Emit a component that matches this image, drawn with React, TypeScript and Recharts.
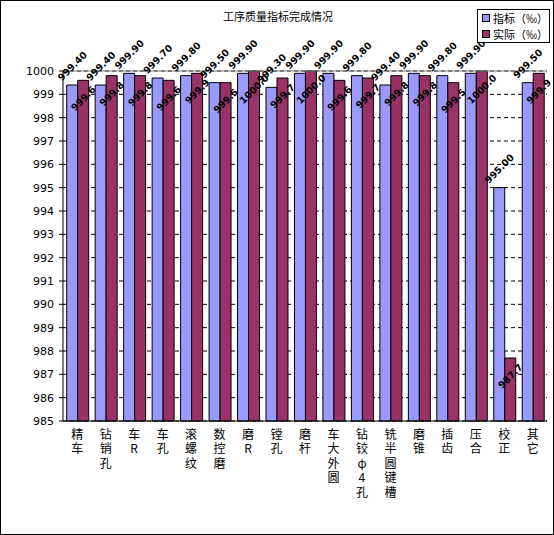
import React from 'react'
import { BarChart, Bar, XAxis, YAxis, CartesianGrid, ReferenceLine, LabelList } from 'recharts'

const categories = [
  '精车', '钻销孔', '车R', '车孔', '滚螺纹', '数控磨', '磨R', '镗孔', '磨杆',
  '车大外圆', '钻铰φ4孔', '铣半圆键槽', '磨锥', '插齿', '压合', '校正', '其它',
]
const target = [
  999.4, 999.4, 999.9, 999.7, 999.8, 999.5, 999.9, 999.3, 999.9,
  999.9, 999.8, 999.4, 999.9, 999.8, 999.9, 995.0, 999.5,
]
const actual = [
  999.6, 999.8, 999.8, 999.6, 999.9, 999.5, 1000.0, 999.7, 1000.0,
  999.6, 999.7, 999.8, 999.8, 999.5, 1000.0, 987.7, 999.9,
]
const yTicks = [985, 986, 987, 988, 989, 990, 991, 992, 993, 994, 995, 996, 997, 998, 999, 1000]

const data = categories.map((name, i) => ({ name, target: target[i], actual: actual[i] }))

const FONT = '"Noto Sans CJK SC", "DejaVu Sans", sans-serif'

// vertical category names, written top to bottom
function XTick({ x, y, payload }: any) {
  return (
    <text
      x={x}
      y={Number(y) + 7}
      fontSize={12}
      fontFamily={FONT}
      fill="#000"
      style={{ writingMode: 'vertical-rl', textOrientation: 'upright', letterSpacing: 2.5 } as any}
    >
      {payload.value}
    </text>
  )
}

// rotated value labels, target above the bar, actual inside the top
function rotLabel(digits: number, offset: number) {
  return (props: any) => {
    const { x, y, width, value } = props
    const cx = Number(x) + Number(width) / 2
    const cy = Number(y) + offset
    return (
      <g>
        <g transform={`translate(${cx} ${cy}) rotate(-45)`}>
          <text
            x={0}
            y={0}
            textAnchor="middle"
            dominantBaseline="central"
            fontSize={9.5}
            fontWeight="bold"
            fontFamily='"DejaVu Sans", sans-serif'
            fill="#000"
          >
            {Number(value).toFixed(digits)}
          </text>
        </g>
      </g>
    )
  }
}

function LegendBox() {
  const row = (color: string, label: string) => (
    <div style={{ display: 'flex', alignItems: 'center', height: 16 }}>
      <span
        style={{
          display: 'inline-block',
          width: 6,
          height: 6,
          background: color,
          border: '1px solid #000',
          marginRight: 3,
        }}
      />
      <span>{label}</span>
    </div>
  )
  return (
    <div
      style={{
        position: 'absolute',
        left: 476,
        top: 8,
        width: 73,
        height: 34,
        boxSizing: 'border-box',
        border: '1px solid #000',
        background: '#fff',
        padding: '0 0 0 4px',
        fontSize: 11,
        fontFamily: FONT,
        lineHeight: '16px',
      }}
    >
      {row('#9999FF', '指标（‰）')}
      {row('#993366', '实际（‰）')}
    </div>
  )
}

export default function App() {
  return (
    <div
      style={{
        position: 'absolute',
        left: 0,
        top: 0,
        width: 554,
        height: 535,
        boxSizing: 'border-box',
        border: '1px solid #000',
        background: '#fff',
      }}
    >
      <div
        style={{
          position: 'absolute',
          left: 0,
          width: 554,
          top: 7,
          textAlign: 'center',
          fontSize: 11,
          fontFamily: FONT,
          color: '#000',
        }}
      >
        工序质量指标完成情况
      </div>
      <BarChart
        width={552}
        height={533}
        data={data}
        margin={{ top: 70, right: 6, left: 0, bottom: 83 }}
        barCategoryGap="13%"
        barGap={0}
        style={{ position: 'absolute', left: 0, top: 0 }}
      >
        <CartesianGrid vertical={false} stroke="#000" strokeDasharray="4 3" />
        <XAxis
          dataKey="name"
          interval={0}
          height={30}
          tick={<XTick />}
          tickLine={false}
          tickSize={0}
          tickMargin={0}
          axisLine={{ stroke: '#000' }}
        />
        <YAxis
          domain={[985, 1000]}
          ticks={yTicks}
          interval={0}
          width={62}
          tickSize={4}
          tickMargin={5}
          tickLine={{ stroke: '#000' }}
          axisLine={{ stroke: '#000' }}
          tick={{ fontSize: 11, fill: '#000', fontFamily: '"DejaVu Sans", sans-serif' }}
        />
        <YAxis yAxisId="frame" orientation="right" width={0} tick={false} tickLine={false} axisLine={{ stroke: '#808080' }} />
        <ReferenceLine y={1000} stroke="#808080" strokeWidth={1} />
        <Bar dataKey="target" fill="#9999FF" stroke="#000" strokeWidth={1} isAnimationActive={false}>
          <LabelList dataKey="target" content={rotLabel(2, -19)} />
        </Bar>
        <Bar dataKey="actual" fill="#993366" stroke="#000" strokeWidth={1} isAnimationActive={false}>
          <LabelList dataKey="actual" content={rotLabel(1, 18)} />
        </Bar>
      </BarChart>
      <LegendBox />
    </div>
  )
}
